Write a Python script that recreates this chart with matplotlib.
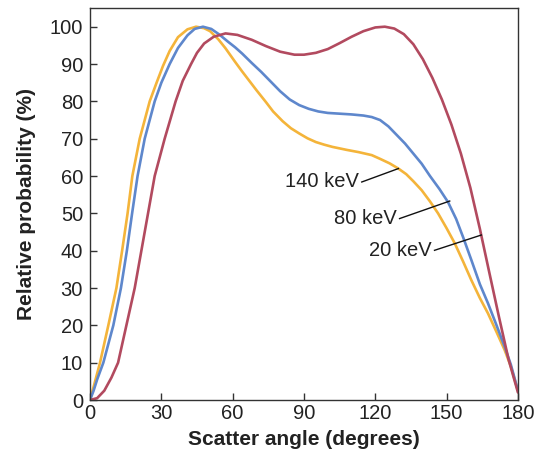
import numpy as np
import matplotlib.pyplot as plt

plt.rcParams['font.family'] = ['Liberation Sans', 'DejaVu Sans']

# values (angle in degrees, relative probability in %)
angle_140 = [0, 1.5, 4.2, 7.7, 11.1, 13.5, 15.8, 17.8, 20.9, 25.1, 28, 30.7, 33.5,
             37, 41, 44.6, 48, 50.5, 54, 57, 61, 64, 67, 70, 74, 77, 81, 84.5,
             88, 91.5, 95, 98.5, 102, 108, 113, 118.5, 122, 126, 129.7, 133,
             136, 139.5, 143, 146.4, 150, 153.4, 157, 160.4, 164, 167.4, 171,
             174.4, 177, 180]
prob_140 = [0, 3.5, 10, 20, 30, 40, 50, 60, 70, 80, 85, 89.5, 93.5,
            97.2, 99.3, 100, 99.6, 98.8, 96.6, 94.2, 90.6, 88, 85.5, 83, 79.8,
            77.3, 74.7, 72.8, 71.4, 70.1, 69.1, 68.4, 67.8, 67, 66.4, 65.6,
            64.6, 63.4, 62, 60.5, 58.6, 56.2, 53.2, 50, 46, 42, 37, 32.1,
            27.3, 23.2, 18.2, 13.4, 9, 2.5]

angle_80 = [0, 1.5, 3, 5.6, 9.8, 13, 15.5, 17.7, 20, 23, 27.2, 30, 33.5, 37, 41,
            44, 47.5, 51, 54.4, 58, 61, 64, 68, 72, 76, 80, 84, 88, 92, 96,
            100, 105, 110, 115, 118.5, 122, 125.5, 129, 132.5, 136, 139.5,
            143, 147, 150.6, 154, 157, 160.4, 164, 167.4, 171, 174.4, 177, 180]
prob_80 = [0, 2.5, 5.5, 10, 20, 30, 40, 50, 60, 70, 80, 85, 90, 94.3, 97.7,
           99.4, 100, 99.4, 97.9, 96, 94.5, 92.8, 90.3, 87.9, 85.3, 82.7, 80.5,
           79, 78, 77.3, 76.9, 76.7, 76.5, 76.2, 75.8, 75, 73.3, 71, 68.7,
           66, 63.3, 60, 56.5, 53, 48.5, 43.5, 37.5, 31, 25.9, 20, 14.3,
           9.5, 2.5]

angle_20 = [0, 3, 6, 9, 11.8, 15.3, 18.8, 21.6, 24.4, 27.2, 31.4, 36, 39,
            42.5, 45, 48, 52, 57, 62, 68, 74, 80, 86, 90, 95, 100, 105, 110,
            115, 120, 124, 128, 132, 136, 140, 144, 148, 152, 156, 160, 164,
            168, 172, 176, 180]
prob_20 = [0, 0.5, 2.5, 6, 10, 20, 30, 40, 50, 60, 70, 80, 85.5,
           90, 93, 95.5, 97.3, 98.2, 97.8, 96.5, 94.8, 93.3, 92.5, 92.5, 93,
           94, 95.6, 97.3, 98.8, 99.8, 100, 99.5, 98, 95.3, 91.3, 86.3, 80.5,
           73.8, 66, 56.8, 45.8, 34, 22.3, 11, 2]

labels = ['140 keV', '80 keV', '20 keV']
colors = ['#F4B43A', '#5E87CC', '#B24A5F']
label_xy = [(113, 58.4), (128.9, 48.6), (143.6, 40.1)]
pointer_ends = [(129.7, 62), (151.3, 53.3), (164.6, 44.2)]

fig = plt.figure(figsize=(5.41, 4.59), dpi=100)
ax = fig.add_axes([0.1664, 0.1285, 0.791, 0.854])

series = [(angle_140, prob_140), (angle_80, prob_80), (angle_20, prob_20)]
for (xs, ys), color in zip(series, colors):
    ax.plot(xs, ys, color=color, linewidth=1.9, solid_joinstyle='round',
            solid_capstyle='round')

# labels with leader lines
for text, (tx, ty), (px, py) in zip(labels, label_xy, pointer_ends):
    ax.text(tx, ty, text, ha='right', va='center', fontsize=14.5,
            color='#222222')
    ax.plot([tx + 1.3, px], [ty, py], color='#111111', linewidth=1.0)

ax.set_xlim(0, 180)
ax.set_ylim(0, 105)
ax.set_xticks([0, 30, 60, 90, 120, 150, 180])
ax.set_yticks(np.arange(0, 101, 10))
ax.tick_params(direction='in', length=5, width=1.0, color='#333333',
               labelsize=14.5, labelcolor='#222222')
ax.tick_params(axis='x', pad=3)
ax.tick_params(axis='y', pad=5)
for spine in ax.spines.values():
    spine.set_color('#333333')
    spine.set_linewidth(1.0)

ax.set_xlabel('Scatter angle (degrees)', fontsize=15, fontweight='bold',
              color='#222222', labelpad=5)
ax.set_ylabel('Relative probability (%)', fontsize=15, fontweight='bold',
              color='#222222', labelpad=10)

fig.savefig('out.png', dpi=100)
